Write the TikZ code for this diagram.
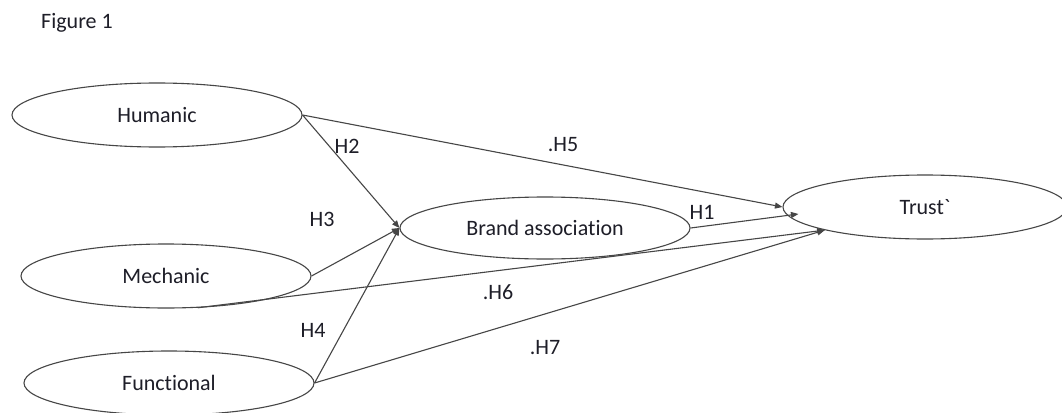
\documentclass[tikz,border=0pt]{standalone}
\usepackage{fontspec}
\setmainfont{Carlito}[Ligatures={NoCommon,TeXOff}]
\usetikzlibrary{shapes.geometric,arrows.meta,calc}
\definecolor{linecol}{RGB}{70,70,70}
\definecolor{txtcol}{RGB}{30,30,40}
\tikzset{
  construct/.style={ellipse, draw=linecol, line width=1.1pt, inner sep=0pt,
    minimum width=290pt, minimum height=64pt, text=txtcol,
    font=\fontsize{22}{26}\selectfont},
  lbl/.style={text=txtcol, inner sep=0pt, font=\fontsize{22}{26}\selectfont},
  path/.style={draw=linecol, line width=1.1pt},
  arr/.style={path, -{Triangle[length=7.5pt,width=6pt]}}
}
\begin{document}
\begin{tikzpicture}[x=1pt,y=-1pt]
\useasboundingbox (0,0) rectangle (1062,412);
\fill[white] (0,0) rectangle (1062,412);
\node[lbl] (fig) at (77,23) {Figure 1};
\node[construct] (Hum) at (157,115) {Humanic};
\node[construct] (Mech) at (166,276) {Mechanic};
\node[construct] (Func) at (169,383) {Functional};
\node[construct, minimum height=62pt] (Brand) at (545,228) {Brand association};
\node[construct, minimum width=284pt] (Trust) at (925,207) {Trust{\char"60}};
\coordinate (tH1) at ($(Trust.west)+(16,7)$);
% paths to Brand association
\draw[arr] (Hum.east) -- (Brand.west);
\draw[arr] (Mech.east) -- (Brand.west);
\draw[arr] (Func.east) -- (Brand.west);
% paths to Trust
\draw[arr] (Hum.east) -- (Trust.west);
\draw[arr] (Brand.east) -- (tH1);
\draw[arr] (Mech.-45) -- (Trust.193);
\draw[arr] (Func.east) -- (Trust.193);
% labels
\node[lbl] (h2) at (347,146) {H2};
\node[lbl] (h5) at (563,145) {.H5};
\node[lbl] (h3) at (322,219) {H3};
\node[lbl] (h1) at (702,212) {H1};
\node[lbl] (h6) at (498,292) {.H6};
\node[lbl] (h4) at (313,330) {H4};
\node[lbl] (h7) at (545,348) {.H7};
\end{tikzpicture}
\end{document}
